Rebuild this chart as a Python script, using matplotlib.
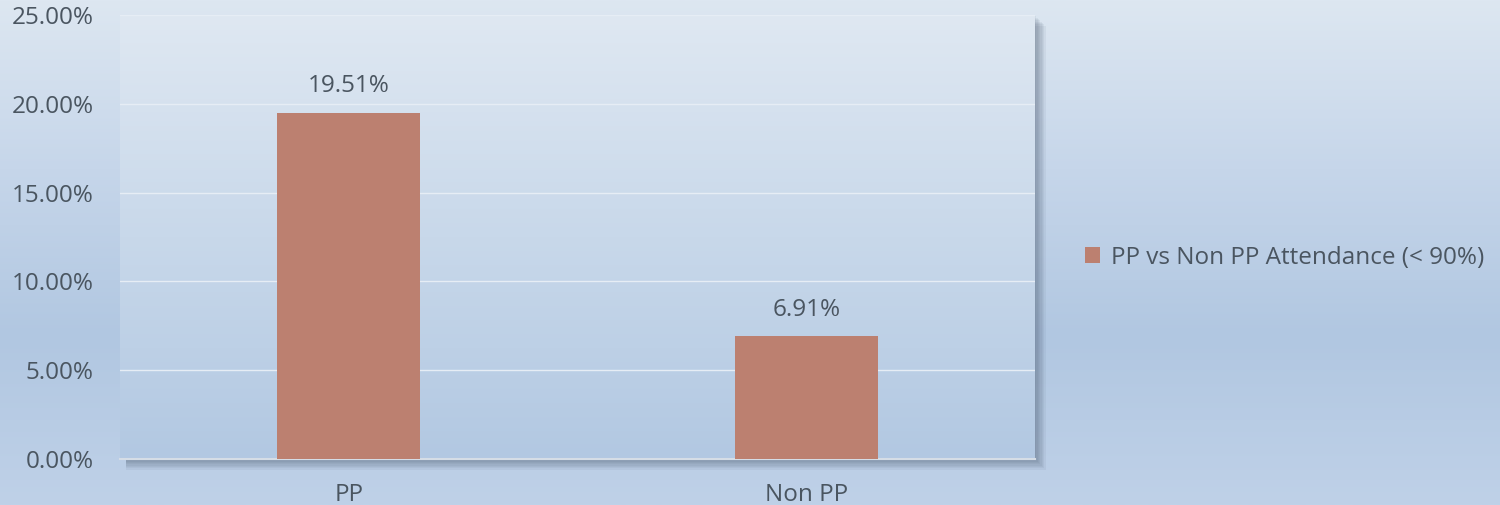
import numpy as np
import matplotlib.pyplot as plt
from matplotlib.patches import Rectangle
from matplotlib.colors import LinearSegmentedColormap

# data
categories = ['PP', 'Non PP']
values = [19.51, 6.91]
series_name = 'PP vs Non PP Attendance (< 90%)'
yticks = [0, 5, 10, 15, 20, 25]

plt.rcParams['font.family'] = ['Open Sans', 'DejaVu Sans']
text_col = '#4a5560'
bar_col = '#bc8070'
fs = 17.5

fig = plt.figure(figsize=(15, 5.05), dpi=100)

# figure background gradient
bg = fig.add_axes([0, 0, 1, 1], zorder=-10)
bg_cmap = LinearSegmentedColormap.from_list('bg', ['#dde7f1', '#c6d6ea', '#b1c7e1', '#bfd1e8'])
bg.imshow(np.linspace(0, 1, 256).reshape(-1, 1), aspect='auto', cmap=bg_cmap,
          extent=[0, 1, 0, 1], origin='upper')
bg.set_xlim(0, 1)
bg.set_ylim(0, 1)
bg.axis('off')

ax_pos = [0.080, 0.091, 0.610, 0.879]

# soft shadow behind plot area (right and bottom)
for i in range(8):
    off = (i + 1) * 0.0009
    bg.add_patch(Rectangle((ax_pos[0] + 0.004, ax_pos[1] - off * 2.9),
                           ax_pos[2] + off - 0.004, ax_pos[3],
                           facecolor='#4a5a70', alpha=0.07, edgecolor='none'))

ax = fig.add_axes(ax_pos)
ax.set_facecolor('none')
pa_cmap = LinearSegmentedColormap.from_list('pa', ['#dfe8f2', '#c8d8ea', '#b2c8e2'])
ax.imshow(np.linspace(0, 1, 256).reshape(-1, 1), aspect='auto', cmap=pa_cmap,
          extent=[-0.5, 1.5, 0, 25], origin='upper', zorder=0)

x = np.arange(len(categories))
bars = ax.bar(x, values, width=0.312, color=bar_col, zorder=3)
for xi, v in zip(x, values):
    ax.annotate(f'{v:.2f}%', (xi, v), xytext=(0, 15), textcoords='offset points',
                ha='center', va='baseline', fontsize=fs, color=text_col)

ax.set_xlim(-0.5, 1.5)
ax.set_ylim(0, 25)
ax.set_yticks(yticks)
ax.set_yticklabels([f'{t:.2f}%' for t in yticks])
ax.set_xticks(x)
ax.set_xticklabels(categories)
ax.grid(axis='y', color='#e6edf5', linewidth=1, zorder=1)
ax.set_axisbelow(True)
ax.tick_params(length=0, labelsize=fs, labelcolor=text_col)
ax.tick_params(axis='y', pad=19)
ax.tick_params(axis='x', pad=17)
for s in ['left', 'right', 'top']:
    ax.spines[s].set_visible(False)
ax.spines['bottom'].set_color('#d5dde6')
ax.spines['bottom'].set_linewidth(1.5)

# legend
fig.legend([bars[0]], [series_name], loc='center left', bbox_to_anchor=(0.709, 0.49),
           frameon=False, fontsize=fs, handlelength=0.6, handleheight=0.6,
           handletextpad=0.45, labelcolor=text_col)

fig.savefig('out.png', dpi=100)
